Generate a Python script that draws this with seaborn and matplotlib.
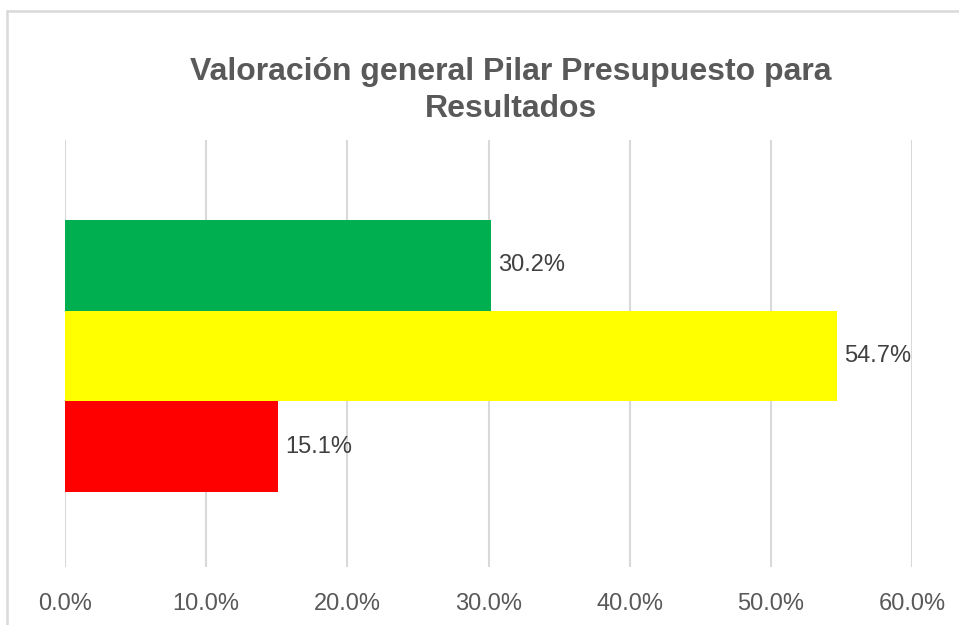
import matplotlib
matplotlib.use("Agg")
import matplotlib.pyplot as plt
import seaborn as sns
import pandas as pd
from matplotlib.lines import Line2D
from matplotlib.ticker import FuncFormatter

# Data
categories = ["Verde", "Amarillo", "Rojo"]
values = [0.302, 0.547, 0.151]
colors = ["#00B050", "#FFFF00", "#FF0000"]
title = "Valoración general Pilar Presupuesto para\nResultados"
xticks = [0.0, 0.1, 0.2, 0.3, 0.4, 0.5, 0.6]

sns.set_theme(style="white")
plt.rcParams['font.family'] = ['Liberation Sans', 'DejaVu Sans']

df = pd.DataFrame({"categoria": categories, "valor": values})

W, H = 959, 625
fig = plt.figure(figsize=(W / 100, H / 100), dpi=100)
ax = fig.add_axes([65 / W, (H - 567) / H, (912 - 65) / W, (567 - 140) / H])

sns.barplot(data=df, y="categoria", x="valor", hue="categoria",
            palette=colors, width=1.0, legend=False, ax=ax,
            saturation=1, linewidth=0, orient="h")

ax.set_xlim(0, 0.6)
ax.set_ylim(3.327, -1.382)
ax.set_xticks(xticks)
ax.xaxis.set_major_formatter(FuncFormatter(lambda v, p: f"{v*100:.1f}%"))
ax.set_yticks([])
ax.set_xlabel("")
ax.set_ylabel("")
for s in ax.spines.values():
    s.set_visible(False)
ax.grid(axis="x", color="#D9D9D9", linewidth=1.5)
ax.grid(axis="y", visible=False)
ax.set_axisbelow(True)
ax.tick_params(axis="x", length=0, pad=19, labelsize=17, labelcolor="#595959")

for cont in ax.containers:
    ax.bar_label(cont, labels=[f"{v*100:.1f}%" for v in cont.datavalues],
                 padding=5, fontsize=17, color="#404040")

fig.text(511 / W, 1 - 57 / H, title, ha="center", va="top",
         fontsize=23, fontweight="bold", color="#595959", linespacing=1.3)

# chart border (top and left visible in crop)
fig.add_artist(Line2D([7 / W, 1.0], [1 - 11 / H, 1 - 11 / H],
                      transform=fig.transFigure, color="#D9D9D9", linewidth=1.8))
fig.add_artist(Line2D([7 / W, 7 / W], [0.0, 1 - 11 / H],
                      transform=fig.transFigure, color="#D9D9D9", linewidth=1.8))

fig.savefig("out.png", dpi=100, facecolor="white")
